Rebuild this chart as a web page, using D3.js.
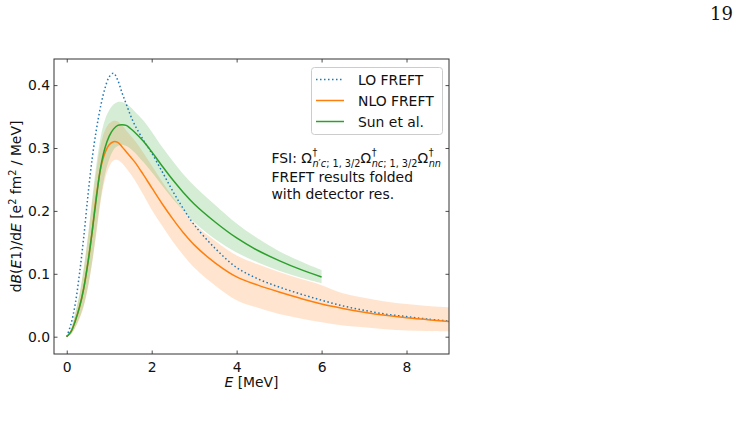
<!DOCTYPE html>
<html>
<head>
<meta charset="utf-8">
<script src="https://cdn.jsdelivr.net/npm/d3@7"></script>
<style>
  body { margin: 0; background: #fff; }
  svg { display: block; font-family: "DejaVu Sans", sans-serif; }
</style>
</head>
<body>
<div id="chart"></div>
<script>
// energy grid [MeV]
const energy = [0, 0.1, 0.2, 0.3, 0.4, 0.5, 0.6, 0.7, 0.8, 0.9, 1.0, 1.1, 1.2, 1.3, 1.4, 1.5, 1.6,
                1.8, 2.0, 2.25, 2.5, 2.75, 3.0, 3.5, 4.0, 4.5, 5.0, 5.5, 6.0, 6.5, 7.0, 7.5, 8.0, 8.5, 9.0];

// LO FREFT
const loFreft = [0, 0.020, 0.052, 0.100, 0.158, 0.225, 0.284, 0.330, 0.367, 0.395, 0.413, 0.419, 0.408, 0.388, 0.370, 0.352, 0.337,
                 0.313, 0.292, 0.262, 0.231, 0.203, 0.178, 0.140, 0.110, 0.092, 0.079, 0.068, 0.058, 0.049, 0.042, 0.036, 0.032, 0.028, 0.025];

// NLO FREFT + band
const nloFreft = [0, 0.008, 0.025, 0.047, 0.077, 0.118, 0.168, 0.225, 0.268, 0.292, 0.305, 0.310, 0.309, 0.302, 0.294, 0.286, 0.278,
                  0.258, 0.237, 0.211, 0.187, 0.165, 0.146, 0.117, 0.095, 0.082, 0.071, 0.061, 0.052, 0.045, 0.039, 0.034, 0.030, 0.027, 0.024];
const nloLow = [0, 0.004, 0.014, 0.028, 0.048, 0.078, 0.118, 0.165, 0.215, 0.250, 0.270, 0.280, 0.281, 0.276, 0.268, 0.259, 0.249,
                0.226, 0.202, 0.176, 0.151, 0.129, 0.110, 0.081, 0.058, 0.046, 0.036, 0.029, 0.023, 0.018, 0.015, 0.012, 0.010, 0.009, 0.008];
const nloHigh = [0, 0.012, 0.036, 0.066, 0.106, 0.158, 0.215, 0.265, 0.305, 0.328, 0.339, 0.343, 0.342, 0.336, 0.328, 0.320, 0.312,
                 0.293, 0.272, 0.246, 0.222, 0.200, 0.180, 0.152, 0.129, 0.115, 0.103, 0.092, 0.082, 0.069, 0.062, 0.056, 0.052, 0.049, 0.047];

// Sun et al. (up to 6 MeV) + band
const sunEnergy = energy.slice(0, 29);
const sun = [0, 0.008, 0.025, 0.047, 0.077, 0.118, 0.168, 0.222, 0.270, 0.300, 0.319, 0.330, 0.336, 0.337, 0.336, 0.331, 0.325,
             0.311, 0.294, 0.271, 0.249, 0.229, 0.211, 0.182, 0.157, 0.137, 0.121, 0.107, 0.095];
const sunLow = [0, 0.004, 0.015, 0.030, 0.050, 0.080, 0.120, 0.170, 0.220, 0.258, 0.282, 0.297, 0.303, 0.305, 0.303, 0.299, 0.293,
                0.278, 0.262, 0.240, 0.219, 0.200, 0.182, 0.155, 0.134, 0.118, 0.105, 0.094, 0.085];
const sunHigh = [0, 0.012, 0.038, 0.068, 0.110, 0.160, 0.220, 0.275, 0.318, 0.345, 0.360, 0.369, 0.373, 0.373, 0.370, 0.365, 0.358,
                 0.344, 0.326, 0.301, 0.279, 0.258, 0.240, 0.209, 0.180, 0.156, 0.136, 0.120, 0.106];

const xTicks = [0, 2, 4, 6, 8];
const yTicks = [0.0, 0.1, 0.2, 0.3, 0.4];
const legendLabels = ["LO FREFT", "NLO FREFT", "Sun et al."];

const width = 742, height = 426;
const pL = 54, pR = 449, pT = 59, pB = 354;
const fs = 13.9;

const svg = d3.select('#chart').append('svg').attr('width', width).attr('height', height);

const x = d3.scaleLinear().domain([-0.3, 9]).range([pL, pR]);
const y = d3.scaleLinear().domain([-0.0275, 0.4415]).range([pB, pT]);

svg.append('defs').append('clipPath').attr('id', 'clip')
    .append('rect').attr('x', pL).attr('y', pT).attr('width', pR - pL).attr('height', pB - pT);

const g = svg.append('g').attr('clip-path', 'url(#clip)');

const curve = d3.curveCatmullRom.alpha(0.5);
const area = d3.area().x(d => x(d[0])).y0(d => y(d[1])).y1(d => y(d[2])).curve(curve);
const line = d3.line().x(d => x(d[0])).y(d => y(d[1])).curve(curve);

g.append('path').datum(energy.map((e, i) => [e, nloLow[i], nloHigh[i]]))
    .attr('d', area).attr('fill', '#ff7f0e').attr('fill-opacity', 0.2);
g.append('path').datum(sunEnergy.map((e, i) => [e, sunLow[i], sunHigh[i]]))
    .attr('d', area).attr('fill', '#2ca02c').attr('fill-opacity', 0.2);

g.append('path').datum(energy.map((e, i) => [e, loFreft[i]]))
    .attr('d', line).attr('fill', 'none').attr('stroke', '#1f77b4').attr('stroke-width', 1.5)
    .attr('stroke-dasharray', '1.5,2.5');
g.append('path').datum(energy.map((e, i) => [e, nloFreft[i]]))
    .attr('d', line).attr('fill', 'none').attr('stroke', '#ff7f0e').attr('stroke-width', 1.5);
g.append('path').datum(sunEnergy.map((e, i) => [e, sun[i]]))
    .attr('d', line).attr('fill', 'none').attr('stroke', '#2ca02c').attr('stroke-width', 1.5);

// axes with inward ticks on all sides
function styleAxis(sel) {
    sel.select('.domain').remove();
    sel.selectAll('.tick line').attr('stroke', '#222').attr('stroke-width', 0.8);
    sel.selectAll('.tick text').attr('font-size', fs).attr('fill', '#111').attr('font-family', 'DejaVu Sans');
}
svg.append('g').attr('transform', `translate(0,${pB})`)
    .call(d3.axisBottom(x).tickValues(xTicks).tickFormat(d3.format('d')).tickSizeInner(-3.5).tickPadding(8))
    .call(styleAxis);
svg.append('g').attr('transform', `translate(0,${pT})`)
    .call(d3.axisTop(x).tickValues(xTicks).tickFormat('').tickSizeInner(-3.5))
    .call(styleAxis);
svg.append('g').attr('transform', `translate(${pL},0)`)
    .call(d3.axisLeft(y).tickValues(yTicks).tickFormat(d3.format('.1f')).tickSizeInner(-3.5).tickPadding(4))
    .call(styleAxis);
svg.append('g').attr('transform', `translate(${pR},0)`)
    .call(d3.axisRight(y).tickValues(yTicks).tickFormat('').tickSizeInner(-3.5))
    .call(styleAxis);

svg.append('rect').attr('x', pL).attr('y', pT).attr('width', pR - pL).attr('height', pB - pT)
    .attr('fill', 'none').attr('stroke', '#333').attr('stroke-width', 1);

// axis labels
const xl = svg.append('text').attr('x', (pL + pR) / 2).attr('y', 387)
    .attr('text-anchor', 'middle').attr('font-size', fs).attr('fill', '#111');
xl.append('tspan').attr('font-style', 'italic').text('E');
xl.append('tspan').text(' [MeV]');

const yl = svg.append('text').attr('transform', `translate(21,${(pT + pB) / 2}) rotate(-90)`)
    .attr('text-anchor', 'middle').attr('font-size', fs).attr('fill', '#111');
yl.append('tspan').text('d');
yl.append('tspan').attr('font-style', 'italic').text('B');
yl.append('tspan').text('(');
yl.append('tspan').attr('font-style', 'italic').text('E');
yl.append('tspan').text('1)/d');
yl.append('tspan').attr('font-style', 'italic').text('E');
yl.append('tspan').text(' [e');
yl.append('tspan').attr('font-size', fs * 0.7).attr('dy', -5).text('2');
yl.append('tspan').attr('dy', 5).text(' fm');
yl.append('tspan').attr('font-size', fs * 0.7).attr('dy', -5).text('2');
yl.append('tspan').attr('dy', 5).text(' / MeV]');

// legend
const lg = svg.append('g');
lg.append('rect').attr('x', 311.5).attr('y', 67.5).attr('width', 131).attr('height', 67).attr('rx', 3)
    .attr('fill', '#fff').attr('fill-opacity', 0.8).attr('stroke', '#ccc').attr('stroke-width', 1);
const legendColors = ['#1f77b4', '#ff7f0e', '#2ca02c'];
legendLabels.forEach((lab, i) => {
    const ly = 79.5 + i * 21;
    lg.append('line').attr('x1', 316).attr('x2', 344).attr('y1', ly).attr('y2', ly)
        .attr('stroke', legendColors[i]).attr('stroke-width', 1.5)
        .attr('stroke-dasharray', i === 0 ? '1.5,2.5' : null);
    lg.append('text').attr('x', 358).attr('y', ly + 5).attr('font-size', fs).attr('fill', '#111').text(lab);
});

// annotation: one text block, sub/superscripts placed by measuring
function measure(parts, size) {
    const t = svg.append('text').attr('font-size', size);
    parts.forEach(p => t.append('tspan').attr('font-style', p[1] ? 'italic' : 'normal').text(p[0]));
    const w = t.node().getComputedTextLength();
    t.remove();
    return w;
}
const ax0 = 271.5, ay = 163;
const note = svg.append('text').attr('font-size', fs).attr('fill', '#111');
note.append('tspan').attr('x', ax0).attr('y', ay).text('FSI:\u00a0');
let cx = ax0 + measure([['FSI:\u00a0', 0]], fs);
const omegas = [
    [['n', 1], ['\u2032', 0], ['c', 1], ['; 1, 3/2', 0]],
    [['n', 1], ['c', 1], ['; 1, 3/2', 0]],
    [['nn', 1]]
];
omegas.forEach(sub => {
    note.append('tspan').attr('x', cx).attr('y', ay).text('\u03a9');
    cx += measure([['\u03a9', 0]], fs) + 0.5;
    note.append('tspan').attr('x', cx).attr('y', ay - 7.5).attr('font-size', fs * 0.7).text('\u2020');
    sub.forEach((p, k) => {
        const ts = note.append('tspan').attr('font-size', fs * 0.7).attr('font-style', p[1] ? 'italic' : 'normal').text(p[0]);
        if (k === 0) ts.attr('x', cx).attr('y', ay + 3.5);
    });
    cx += Math.max(measure([['\u2020', 0]], fs * 0.7), measure(sub, fs * 0.7));
});
note.append('tspan').attr('x', ax0).attr('y', 182).text('FREFT results folded');
note.append('tspan').attr('x', ax0).attr('y', 198.5).text('with detector res.');

// page number
svg.append('text').attr('x', 733).attr('y', 20).attr('text-anchor', 'end')
    .attr('font-family', 'DejaVu Serif').attr('font-size', 18).attr('fill', '#111').text('19');
</script>
</body>
</html>
